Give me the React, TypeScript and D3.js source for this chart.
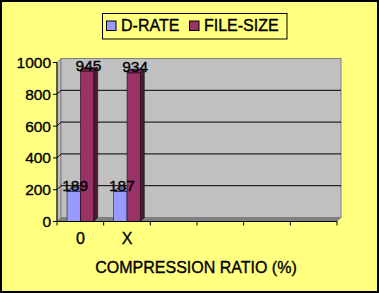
import React from "react";
import * as d3 from "d3";

const categories = ["0", "X", "", "", "", ""];
const dRate: (number | null)[] = [189, 187, null, null, null, null];
const fileSize: (number | null)[] = [945, 934, null, null, null, null];
const yTicks = [0, 200, 400, 600, 800, 1000];
const seriesNames = ["D-RATE", "FILE-SIZE"];

const W = 379;
const H = 293;
const FONT = "Arial, 'Liberation Sans', sans-serif";
const DX = 4;
const DY = -4;
const TS = { stroke: "#000", strokeWidth: 0.35 };

const colors = [
  { front: "#9999FF", top: "#7A7ACC", side: "#4D4D80" },
  { front: "#993366", top: "#7A2952", side: "#4D1A33" },
];

export default function App() {
  const x0 = 57;
  const x1 = 337;
  const x = d3.scaleBand<number>().domain(d3.range(categories.length)).range([x0, x1]).paddingInner(0).paddingOuter(0);
  const y = d3.scaleLinear().domain([0, 1000]).range([221.5, 62.5]);
  const band = x.bandwidth();
  const barW = band * (2 / 7);
  const padL = (band - 2 * barW) / 2;
  const yb = (v: number) => y(v) + DY;

  const series = [dRate, fileSize];

  const bars: React.ReactNode[] = [];
  const labels: React.ReactNode[] = [];
  categories.forEach((_, i) => {
    series.forEach((s, si) => {
      const v = s[i];
      if (v == null) return;
      const bx = (x(i) as number) + padL + si * barW;
      const top = y(v);
      const bot = y(0);
      const c = colors[si];
      bars.push(
        <g key={`b${i}-${si}`}>
          <polygon
            points={`${bx + barW},${top} ${bx + barW + DX},${top + DY} ${bx + barW + DX},${bot + DY} ${bx + barW},${bot}`}
            fill={c.side}
            stroke="#000"
            strokeWidth={0.5}
          />
          <polygon
            points={`${bx},${top} ${bx + DX},${top + DY} ${bx + barW + DX},${top + DY} ${bx + barW},${top}`}
            fill={c.top}
            stroke="#000"
            strokeWidth={0.5}
          />
          <rect x={bx} y={top} width={barW} height={bot - top} fill={c.front} stroke="#000" strokeWidth={0.5} />
        </g>
      );
      labels.push(
        <text
          key={`l${i}-${si}`}
          x={bx + barW / 2 + 1.5}
          y={top - 0.5}
          textAnchor="middle"
          fontSize={15.5}
          fontFamily={FONT}
          fill="#000"
          {...TS}
        >
          {v}
        </text>
      );
    });
  });

  return (
    <svg width={W} height={H} style={{ position: "absolute", left: 0, top: 0 }}>
      <rect x={0} y={0} width={W} height={H} fill="#000" />
      <rect x={2} y={2} width={W - 4} height={H - 4} fill="#FFFF80" />

      {/* legend */}
      <rect x={102.5} y={13.5} width={184.5} height={25.5} fill="#FFFF80" stroke="#000" strokeWidth={1} />
      {seriesNames.map((n, i) => {
        const lx = i === 0 ? 106.5 : 189.5;
        return (
          <g key={n}>
            <rect x={lx} y={21} width={9.5} height={9.5} fill={colors[i].front} stroke="#000" strokeWidth={1} />
            <text x={lx + 14.5} y={31} fontSize={16} fontFamily={FONT} fill="#000" {...TS}>
              {n}
            </text>
          </g>
        );
      })}

      {/* walls */}
      <polygon
        points={`${x0},${y(1000)} ${x0 + DX},${yb(1000)} ${x0 + DX},${yb(0)} ${x0},${y(0)}`}
        fill="#C0C0C0"
        stroke="#808080"
        strokeWidth={1}
      />
      <rect x={x0 + DX} y={yb(1000)} width={x1 - x0} height={yb(0) - yb(1000)} fill="#C0C0C0" stroke="#808080" strokeWidth={1} />
      <polygon
        points={`${x0},${y(0)} ${x1},${y(0)} ${x1 + DX},${yb(0)} ${x0 + DX},${yb(0)}`}
        fill="#808080"
        stroke="#808080"
        strokeWidth={0.5}
      />
      {yTicks
        .filter((t) => t > 0 && t < 1000)
        .map((t) => (
          <g key={`g${t}`}>
            <line x1={x0} y1={y(t)} x2={x0 + DX} y2={yb(t)} stroke="#000" strokeWidth={1} />
            <line x1={x0 + DX} y1={yb(t)} x2={x1 + DX} y2={yb(t)} stroke="#000" strokeWidth={1} />
          </g>
        ))}

      {bars}

      {/* axes */}
      <line x1={x0} y1={y(1000)} x2={x0} y2={y(0)} stroke="#000" strokeWidth={1} />
      <line x1={x0} y1={y(0)} x2={x1} y2={y(0)} stroke="#000" strokeWidth={1} />
      {yTicks.map((t) => (
        <g key={`yt${t}`}>
          <line x1={x0 - 4} y1={y(t)} x2={x0} y2={y(t)} stroke="#000" strokeWidth={1} />
          <text x={51} y={y(t) + 5.5} textAnchor="end" fontSize={15.5} fontFamily={FONT} fill="#000" {...TS}>
            {t}
          </text>
        </g>
      ))}
      {d3.range(categories.length + 1).map((i) => {
        const tx = x0 + i * band;
        return <line key={`xt${i}`} x1={tx} y1={y(0)} x2={tx} y2={y(0) + 4} stroke="#000" strokeWidth={1} />;
      })}
      {categories.map((c, i) => (
        <text
          key={`c${i}`}
          x={(x(i) as number) + band / 2}
          y={244}
          textAnchor="middle"
          fontSize={16}
          fontFamily={FONT}
          fill="#000"
          {...TS}
        >
          {c}
        </text>
      ))}
      {labels}
      <text x={196} y={272.5} textAnchor="middle" fontSize={16} fontFamily={FONT} fill="#000" {...TS}>
        COMPRESSION RATIO (%)
      </text>
    </svg>
  );
}
